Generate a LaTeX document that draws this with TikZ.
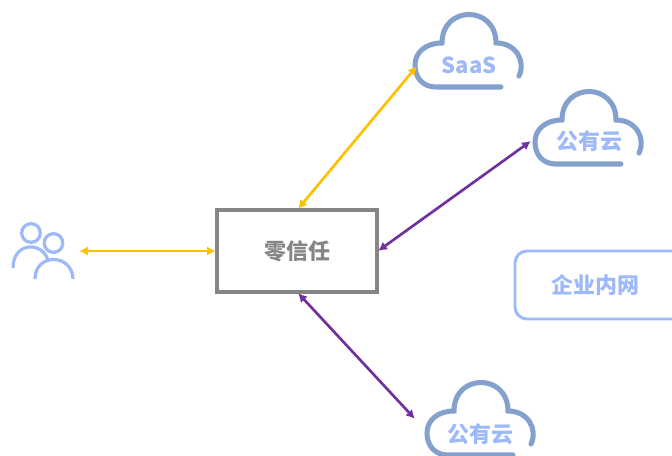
\documentclass[tikz,border=0pt]{standalone}
\usepackage{xcolor}
\usepackage{fontspec}
\setmainfont{Noto Sans CJK SC}
\usepackage{tikz}
\usetikzlibrary{arrows.meta}
\definecolor{boxgray}{HTML}{858585}
\definecolor{linkyellow}{HTML}{FFC000}
\definecolor{linkpurple}{HTML}{7030A0}
\definecolor{lightblue}{HTML}{9DB9F9}
\definecolor{cloudblue}{HTML}{84A0CC}
\tikzset{
	port/.style={minimum size=0mm, inner sep=0pt},
	label/.style={font=\fontsize{16.5}{16.5}\selectfont\bfseries, text=lightblue},
	link/.style={line width=2pt, <->, >={Latex[length=6.5pt,width=7pt]}},
	cloudicon/.pic={
		\draw[cloudblue, line width=3.8pt, line cap=round]
			(51,21) .. controls (58,6) and (48,-12) .. (28,-12)
			.. controls (28,-50) and (-26,-50) .. (-26,-12)
			.. controls (-42,-12) and (-53,-3) .. (-53,10)
			.. controls (-53,23) and (-45,32) .. (-32,32) -- (33,32);
	}
}
\begin{document}
\begin{tikzpicture}[x=0.75pt, y=-0.75pt]
		\useasboundingbox (0, 0) rectangle (672, 456);
		% Clouds
		\pic at (468, 55) {cloudicon};
		\pic at (588, 132) {cloudicon};
		\pic at (480, 423) {cloudicon};
		\node[label] (saas) at (469, 65) {SaaS};
		\node[label] (cloudA) at (589, 141) {公有云};
		\node[label] (cloudB) at (480, 434) {公有云};
		% Intranet box
		\node[draw=lightblue, line width=2.2pt, rounded corners=9pt, minimum width=135pt, minimum height=51pt, label] (intranet) at (605, 285) {};
		\node[label] (intranetText) at (595, 285) {企业内网};
		% Centre box
		\node[draw=boxgray, line width=2.3pt, minimum width=120pt, minimum height=61.5pt, font=\fontsize{16.5}{16.5}\selectfont\bfseries, text=boxgray] (zero) at (297, 251) {零信任};
		% Users
		\draw[lightblue, line width=2.4pt] (31, 233) circle (7pt);
		\draw[lightblue, line width=2.4pt] (53.5, 243) circle (7pt);
		\draw[lightblue, line width=2.4pt] (13, 268) .. controls (13, 242) and (42, 241) .. (48, 260);
		\draw[lightblue, line width=2.4pt] (35, 279) .. controls (35, 253) and (72, 253) .. (73, 279);
		% Connector ends
		\node[port] (users) at (79, 251) {};
		\node[port] (saasEnd) at (417, 66) {};
		\node[port] (cloudAEnd) at (531, 141) {};
		\node[port] (cloudBEnd) at (415, 419) {};
		\node[port] (zeroTop) at (298, 209) {};
		\node[port] (zeroBottom) at (298, 293) {};
		\node[port] (zeroLeft) at (216, 251) {};
		\node[port] (zeroRight) at (378, 251) {};
		% Drawing the edges
		\draw[link, linkyellow] (users) to (zeroLeft);
		\draw[link, linkyellow] (zeroTop) to (saasEnd);
		\draw[link, linkpurple] (zeroRight) to (cloudAEnd);
		\draw[link, linkpurple] (zeroBottom) to (cloudBEnd);
	\end{tikzpicture}
\end{document}
